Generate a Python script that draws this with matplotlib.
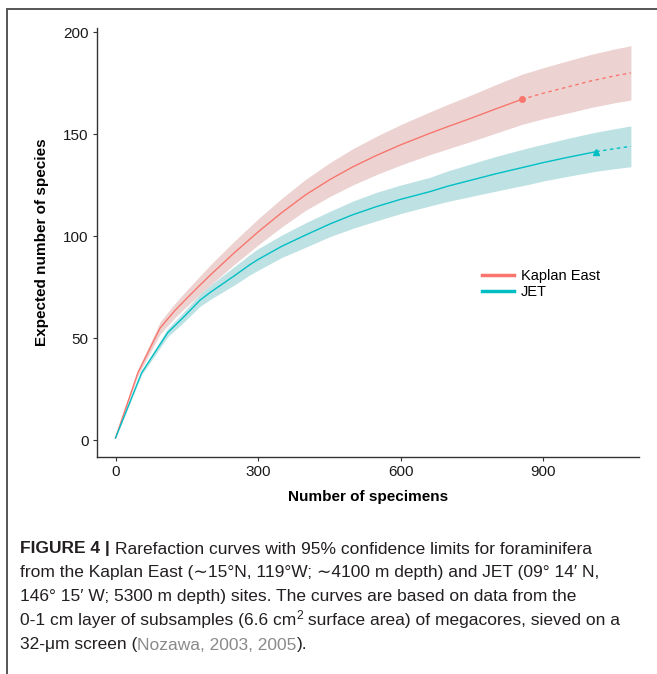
import matplotlib
matplotlib.use("Agg")
import matplotlib.pyplot as plt
import matplotlib.lines as mlines
import matplotlib.patches as mpatches

# Kaplan East rarefaction (observed part ends at n = 855)
kaplan_x = [0, 47, 94, 125, 150, 178, 200, 250, 300, 350, 400, 452, 500, 550, 600, 662, 700, 750, 800, 855]
kaplan_y = [1, 33, 55, 63.5, 69.5, 76, 81, 91.8, 102, 111.5, 120.2, 127.8, 134, 139.6, 144.7, 150.4, 153.7,
            157.9, 162.3, 167]
kaplan_lo = [1, 31.5, 52, 60, 65.5, 71.5, 76, 86.1, 95.6, 104.5, 112.6, 119.5, 125.1, 130.2, 134.8, 139.9,
             142.8, 146.5, 150.4, 154.7]
kaplan_hi = [1, 34.5, 58, 67, 73.5, 80.5, 86, 97.5, 108.4, 118.5, 127.8, 136.1, 142.9, 149, 154.6, 160.9,
             164.6, 169.3, 174.2, 179.3]
# Kaplan East extrapolation
kaplan_ext_x = [855, 900, 950, 1000, 1050, 1085]
kaplan_ext_y = [167, 170, 173, 176, 178.5, 180]
kaplan_ext_lo = [154.7, 157.5, 160.2, 163, 165.3, 166.7]
kaplan_ext_hi = [179.3, 182.5, 185.8, 189, 191.7, 193.3]

# JET rarefaction (observed part ends at n = 1012)
jet_x = [0, 55, 110, 140, 178, 200, 250, 283, 300, 350, 400, 452, 500, 550, 600, 662, 700, 750, 800, 873,
         900, 950, 1012]
jet_y = [1, 33, 52.7, 59.5, 68.6, 72.5, 80.5, 86, 88.5, 95, 100.5, 106, 110.5, 114.5, 118, 121.8, 124.5,
         127.5, 130.5, 134.5, 136, 138.5, 141.4]
jet_lo = [1, 32, 50.7, 57, 65.6, 69, 76, 81, 83.2, 89.5, 94.5, 99.8, 103.8, 107.5, 111, 114.8, 117, 119.5,
          122, 125.5, 127, 129.2, 131.8]
jet_hi = [1, 34, 54.7, 62, 71.6, 76, 85, 91, 93.8, 100.5, 106.5, 112.2, 117.2, 121.5, 125, 128.8, 132, 135.5,
          139, 143.5, 145, 147.8, 151]
# JET extrapolation
jet_ext_x = [1012, 1050, 1085]
jet_ext_y = [141.4, 142.8, 144]
jet_ext_lo = [131.8, 133, 134]
jet_ext_hi = [151, 152.6, 154]

x_ticks = [0, 300, 600, 900]
y_ticks = [0, 50, 100, 150, 200]
series_names = ["Kaplan East", "JET"]

RED = "#F8766D"
CYAN = "#00BFC4"
RED_FILL = "#ECD3D2"
CYAN_FILL = "#BEE2E3"

FONT = ["Liberation Sans", "DejaVu Sans"]
CAP_FONT = ["Liberation Sans Narrow", "Liberation Sans", "DejaVu Sans"]
plt.rcParams["font.family"] = FONT

fig = plt.figure(figsize=(6.57, 6.74), dpi=100)
W, H = 657.0, 674.0

ax = fig.add_axes([97 / W, 1 - 457 / H, (639 - 97) / W, (457 - 28) / H])

# ribbons
ax.fill_between(kaplan_x + kaplan_ext_x, kaplan_lo + kaplan_ext_lo,
                kaplan_hi + kaplan_ext_hi, color=RED_FILL, lw=0)
ax.fill_between(jet_x + jet_ext_x, jet_lo + jet_ext_lo,
                jet_hi + jet_ext_hi, color=CYAN_FILL, lw=0)

# curves
ax.plot(kaplan_x, kaplan_y, color=RED, lw=1.0)
ax.plot(kaplan_ext_x, kaplan_ext_y, color=RED, lw=1.0, ls=(0, (2.5, 2.5)))
ax.plot(jet_x, jet_y, color=CYAN, lw=1.0)
ax.plot(jet_ext_x, jet_ext_y, color=CYAN, lw=1.0, ls=(0, (2.5, 2.5)))

# reference sample points
ax.plot(kaplan_x[-1], kaplan_y[-1], "o", color=RED, ms=4)
ax.plot(jet_x[-1], jet_y[-1], "^", color=CYAN, ms=4)

ax.set_xlim(-39, 1102)
ax.set_ylim(-8.3, 202)
ax.set_xticks(x_ticks)
ax.set_yticks(y_ticks)
ax.tick_params(labelsize=11, length=3, width=0.8, color="#333333",
               labelcolor="#1a1a1a", pad=3)
for side in ["top", "right"]:
    ax.spines[side].set_visible(False)
for side in ["left", "bottom"]:
    ax.spines[side].set_color("#333333")
    ax.spines[side].set_linewidth(1.0)

ax.set_xlabel("Number of specimens", fontsize=11, fontweight="bold", labelpad=8)
ax.set_ylabel("Expected number of species", fontsize=11, fontweight="bold", labelpad=10)

# legend
handles = [mlines.Line2D([], [], color=RED, lw=2.5),
           mlines.Line2D([], [], color=CYAN, lw=2.5)]
ax.legend(handles, series_names, loc="upper left", bbox_to_anchor=(475 / W, 1 - 262 / H),
          bbox_transform=fig.transFigure, frameon=False, fontsize=10.5,
          handlelength=2.2, handletextpad=0.45, labelspacing=0.15, borderpad=0)

# frame around the figure (left and top edges visible)
fig.patches.append(mpatches.Rectangle((7 / W, -0.1), 1.2, 1 - 9 / H + 0.1,
                                      transform=fig.transFigure, fill=False,
                                      ec="#555555", lw=1.4))

# caption, drawn as runs of text placed one after another
fig.canvas.draw()
renderer = fig.canvas.get_renderer()


def caption_line(y_px, runs, size=12.5):
    x = 20 / W
    for txt, weight, color, dy in runs:
        t = fig.text(x, 1 - (y_px - dy) / H, txt, fontsize=size if dy == 0 else size * 0.7,
                     fontweight=weight, color=color, family=CAP_FONT, va="center", ha="left")
        bb = t.get_window_extent(renderer)
        x += bb.width / fig.bbox.width


dark = "#231f20"
gray = "#8a8a8a"
caption_line(549, [("FIGURE 4 | ", "bold", dark, 0),
                   ("Rarefaction curves with 95% confidence limits for foraminifera", "normal", dark, 0)])
caption_line(573, [("from the Kaplan East (\u223c15\u00b0N, 119\u00b0W; \u223c4100 m depth) and JET (09\u00b0 14\u2032 N,",
                    "normal", dark, 0)])
caption_line(597, [("146\u00b0 15\u2032 W; 5300 m depth) sites. The curves are based on data from the",
                    "normal", dark, 0)])
caption_line(621, [("0-1 cm layer of subsamples (6.6 cm", "normal", dark, 0),
                   ("2", "normal", dark, 5),
                   (" surface area) of megacores, sieved on a", "normal", dark, 0)])
caption_line(645, [("32-\u03bcm screen (", "normal", dark, 0),
                   ("Nozawa, 2003, 2005", "normal", gray, 0),
                   (").", "normal", dark, 0)])

fig.savefig("out.png", dpi=100)
